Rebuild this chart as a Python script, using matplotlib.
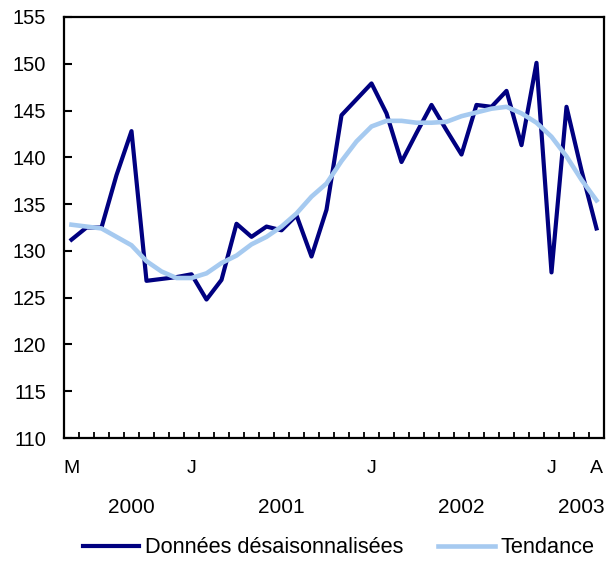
import matplotlib
matplotlib.use("Agg")
import matplotlib.pyplot as plt
from matplotlib.transforms import blended_transform_factory

plt.rcParams['font.family'] = ['Liberation Sans', 'DejaVu Sans']

# monthly values, May 2000 to April 2003
desaison = [131.2, 132.5, 132.5, 138.1, 142.8, 126.8, 127.0, 127.2, 127.5, 124.8,
            126.9, 132.9, 131.5, 132.6, 132.2, 133.8, 129.4, 134.4, 144.5, 146.2,
            147.9, 144.7, 139.5, 142.6, 145.6, 142.9, 140.3, 145.6, 145.4, 147.1,
            141.3, 150.1, 127.7, 145.4, 138.6, 132.4]
tendance = [132.8, 132.6, 132.4, 131.5, 130.6, 128.9, 127.8, 127.1, 127.1, 127.6,
            128.7, 129.5, 130.7, 131.5, 132.6, 134.0, 135.8, 137.2, 139.6, 141.7,
            143.3, 143.9, 143.9, 143.7, 143.7, 143.8, 144.4, 144.8, 145.2, 145.4,
            144.7, 143.7, 142.2, 140.1, 137.6, 135.4]
month_labels = {0: "M", 8: "J", 20: "J", 32: "J", 35: "A"}
years = ["2000", "2001", "2002", "2003"]
months_per_year = [8, 12, 12, 4]
y_ticks = [110, 115, 120, 125, 130, 135, 140, 145, 150, 155]

fig = plt.figure(figsize=(6.12, 5.73), dpi=100)
ax = fig.add_axes([64/612, 1 - 438/573, 540/612, 421/573])

x = list(range(len(desaison)))
ax.plot(x, desaison, color="#000080", lw=3.0, label="Données désaisonnalisées")
ax.plot(x, tendance, color="#a6caf0", lw=3.3, label="Tendance")

ax.set_xlim(-0.5, len(desaison) - 0.5)
ax.set_ylim(110, 155)
ax.set_yticks(y_ticks)
ax.tick_params(axis="y", direction="in", length=6, width=1.5, labelsize=14.5, pad=13)

ax.set_xticks(list(month_labels.keys()))
ax.set_xticklabels(list(month_labels.values()))
ax.tick_params(axis="x", which="major", length=0, labelsize=14, pad=16)
ax.set_xticks([i + 0.5 for i in range(len(desaison) - 1)], minor=True)
ax.tick_params(axis="x", which="minor", direction="in", length=4, width=1.3)

for s in ax.spines.values():
    s.set_linewidth(1.6)

trans = blended_transform_factory(ax.transData, ax.transAxes)
start = 0
for yr, n in zip(years, months_per_year):
    ax.text(start + (n - 1) / 2 + 0.5, -0.164, yr, transform=trans,
            ha="center", va="center", fontsize=15)
    start += n

ax.legend(loc="center", bbox_to_anchor=(0.508, -0.261), ncol=2, frameon=False,
          fontsize=15.7, handlelength=2.6, handletextpad=0.25, columnspacing=1.6)

fig.savefig("out.png", dpi=100)
